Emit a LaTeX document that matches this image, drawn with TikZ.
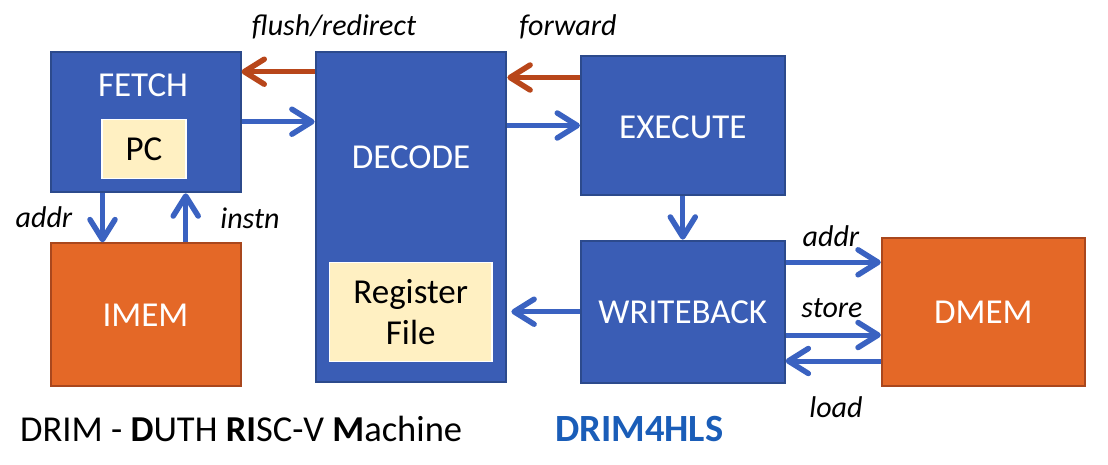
\documentclass[tikz,border=0pt]{standalone}
\usepackage{fontspec}
\setmainfont{Carlito}
\usetikzlibrary{arrows.meta}
\definecolor{boxblue}{HTML}{3A5DB5}
\definecolor{boxblueline}{HTML}{2C4A8C}
\definecolor{memorange}{HTML}{E46827}
\definecolor{memorangeline}{HTML}{A9471D}
\definecolor{regyellow}{HTML}{FFF0C2}
\definecolor{arrblue}{HTML}{3A62C1}
\definecolor{arrred}{HTML}{B8461A}
\definecolor{titleblue}{HTML}{1A5DB8}
\tikzset{
  stagebox/.style={draw=boxblueline, fill=boxblue, line width=2pt, inner sep=0pt},
  membox/.style={draw=memorangeline, fill=memorange, line width=2pt, inner sep=0pt},
  regbox/.style={draw=white, fill=regyellow, line width=1.5pt, inner sep=0pt, align=center, text=black, font=\fontsize{35}{40}\selectfont},
  boxtext/.style={text=white, inner sep=0pt, font=\fontsize{35}{40}\selectfont},
  sigtext/.style={text=black, inner sep=0pt, font=\fontsize{30}{34}\selectfont\itshape},
  barrow/.style={draw=arrblue, line width=5pt, -{Straight Barb[length=20pt, width=25pt, line width=5.5pt, round]}},
  rarrow/.style={draw=arrred, line width=5pt, -{Straight Barb[length=20pt, width=25pt, line width=5.5pt, round]}},
}
\begin{document}
\begin{tikzpicture}[x=1pt,y=-1pt]
\useasboundingbox (0,0) rectangle (1108,464);
% boxes
\node[stagebox, minimum width=190pt, minimum height=140pt] (fetch) at (145.5,122.3) {};
\node[regbox, minimum width=84pt, minimum height=59pt] (pc) at (144,148.8) {PC};
\node[membox, minimum width=190pt, minimum height=142.7pt] (imem) at (145.5,314.7) {};
\node[stagebox, minimum width=190.7pt, minimum height=329.4pt] (decode) at (411,217) {};
\node[regbox, minimum width=162.7pt, minimum height=99pt] (rf) at (410.7,312.2) {Register\\[1pt]File};
\node[stagebox, minimum width=203.6pt, minimum height=139pt] (execute) at (682.8,125.5) {};
\node[stagebox, minimum width=203.6pt, minimum height=142pt] (wb) at (682.8,311.7) {};
\node[membox, minimum width=203.2pt, minimum height=148.3pt] (dmem) at (983.4,311.9) {};
% box texts
\node[boxtext] (fetchT) at (143,85) {FETCH};
\node[boxtext] (imemT) at (145.5,315) {IMEM};
\node[boxtext] (decodeT) at (411,157) {DECODE};
\node[boxtext] (executeT) at (682.8,127) {EXECUTE};
\node[boxtext] (wbT) at (682.8,312) {WRITEBACK};
\node[boxtext] (dmemT) at (983.4,312) {DMEM};
% connector end points
\coordinate (fdS) at ([yshift=0.6pt]fetch.east);
\coordinate (fwdS) at ([yshift=48pt]execute.west);
\coordinate (flT) at ([yshift=50.6pt]fetch.east);
\coordinate (daS) at ([yshift=49.4pt]wb.east);
\coordinate (stS) at ([yshift=-23.3pt]wb.east);
\coordinate (ldT) at ([yshift=-49.3pt]wb.east);
\coordinate (rfT) at ([xshift=4pt]decode.east);
% arrows
\draw[barrow] (fdS) -- (decode.west |- fdS);
\draw[barrow] (decode.east |- execute.west) -- (execute.west);
\draw[rarrow] (fwdS) -- (decode.east |- fwdS);
\draw[rarrow] (decode.west |- flT) -- (flT);
\draw[barrow] ([xshift=-43pt]fetch.south) -- ([xshift=-43pt]imem.north);
\draw[barrow] ([xshift=40.2pt]imem.north) -- ([xshift=40.2pt]fetch.south);
\draw[barrow] (execute.south) -- (wb.north);
\draw[barrow] (wb.west) -- (rfT |- wb.west);
\draw[barrow] (daS) -- (dmem.west |- daS);
\draw[barrow] (stS) -- (dmem.west |- stS);
\draw[barrow] (dmem.west |- ldT) -- (ldT);
% signal labels
\node[sigtext] (flushL) at (334,27) {flush/redirect};
\node[sigtext] (fwdL) at (568,27) {forward};
\node[sigtext] (addrL) at (44,217) {addr};
\node[sigtext] (instnL) at (250,218) {instn};
\node[sigtext] (daddrL) at (831,236) {addr};
\node[sigtext] (storeL) at (832,308) {store};
\node[sigtext] (loadL) at (836,407) {load};
% titles
\node[anchor=base west, inner sep=0pt, font=\fontsize{36.5}{41}\selectfont] (title) at (20,441.7) {DRIM - \textbf{D}UTH \textbf{RI}SC-V \textbf{M}achine};
\node[anchor=base west, inner sep=0pt, text=titleblue, font=\fontsize{38.5}{43}\selectfont\bfseries] (brand) at (555,441.7) {DRIM4HLS};
\end{tikzpicture}
\end{document}
